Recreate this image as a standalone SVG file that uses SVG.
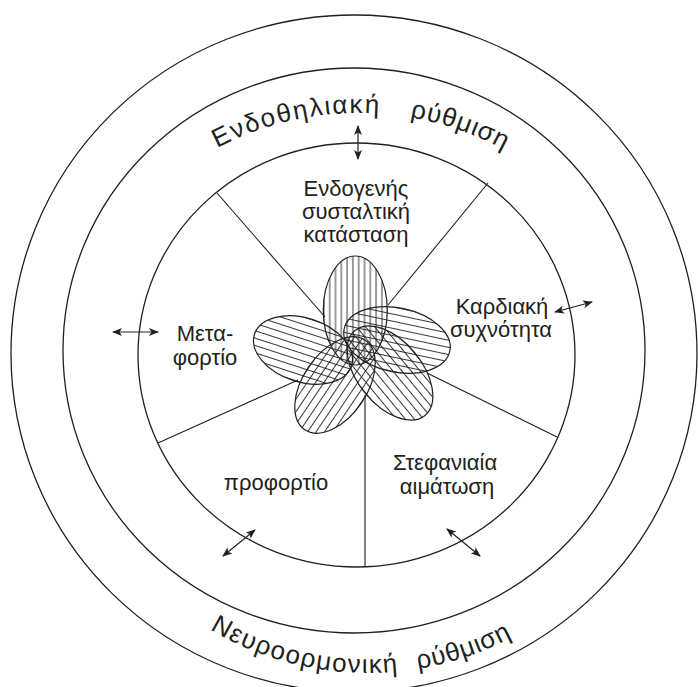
<svg xmlns="http://www.w3.org/2000/svg" width="698" height="687" viewBox="0 0 698 687">
<style>
.ring{fill:none;stroke:#231f20;stroke-width:1.3}
.spoke{fill:none;stroke:#231f20;stroke-width:1.1}
.petal{stroke:#231f20;stroke-width:1.2}
.lbl{font-family:"Liberation Sans",Arial,sans-serif;font-size:22px;fill:#231f20;text-anchor:middle}
.arc{font-family:"Liberation Sans",Arial,sans-serif;font-size:26px;fill:#231f20}
.arr{fill:none;stroke:#231f20;stroke-width:1.2;marker-start:url(#ah);marker-end:url(#ah)}
</style>
<defs>
<marker id="ah" viewBox="0 0 10 8" refX="9" refY="4" markerWidth="10" markerHeight="8" markerUnits="userSpaceOnUse" orient="auto-start-reverse">
<path d="M0,0 L10,4 L0,8 L2.5,4 Z" fill="#231f20"/>
</marker>
<pattern id="h6" width="5.8" height="10" patternUnits="userSpaceOnUse" x="0.5">
<line x1="2.9" y1="-1" x2="2.9" y2="11" stroke="#231f20" stroke-width="0.9"/>
</pattern>
<pattern id="h7" width="7" height="10" patternUnits="userSpaceOnUse">
<line x1="3.5" y1="-1" x2="3.5" y2="11" stroke="#231f20" stroke-width="0.9"/>
</pattern>
<path id="topArc" d="M217,148 A304,304 0 0 1 560,189"/>
<path id="botArc" d="M210,629.4 A308,308 0 0 0 560,605.8"/>
</defs>

<g id="rings">
<ellipse id="outer-ring" class="ring" cx="354" cy="353.5" rx="343" ry="338.5"/>
<ellipse id="middle-ring" class="ring" cx="354" cy="350.5" rx="291" ry="282.5"/>
<ellipse id="inner-ring" class="ring" cx="356.5" cy="355" rx="218.5" ry="212"/>
</g>

<g id="connectors">
<line class="spoke" x1="217" y1="193" x2="325" y2="317"/>
<line class="spoke" x1="488" y1="183" x2="388" y2="305"/>
<line class="spoke" x1="427" y1="373" x2="557" y2="437"/>
<line class="spoke" x1="158" y1="443" x2="298" y2="380"/>
<line class="spoke" x1="365" y1="395" x2="365" y2="567"/>
<line class="arr" x1="358" y1="126" x2="358" y2="159"/>
<line class="arr" x1="113" y1="332" x2="158" y2="332"/>
<line class="arr" x1="555" y1="312" x2="592" y2="302"/>
<line class="arr" x1="223" y1="556" x2="255" y2="530"/>
<line class="arr" x1="447" y1="529" x2="480" y2="556"/>
</g>

<g id="flower">
<g id="petal-top" transform="translate(355.3,310.5)"><ellipse class="petal" rx="32" ry="54.5" fill="url(#h6)"/></g>
<g id="petal-left" transform="translate(303,350) rotate(-72)"><ellipse class="petal" rx="32" ry="51" fill="url(#h7)"/></g>
<g id="petal-right" transform="translate(397,340) rotate(102)"><ellipse class="petal" rx="32" ry="54" fill="url(#h7)"/></g>
<g id="petal-lower-left" transform="translate(335,385) rotate(34)"><ellipse class="petal" rx="32" ry="54" fill="url(#h7)"/></g>
<g id="petal-lower-right" transform="translate(390,373) rotate(-39.5)"><ellipse class="petal" rx="32" ry="55" fill="url(#h7)"/></g>
</g>

<g id="node-endothelial">
<text class="arc" letter-spacing="1.8"><textPath href="#topArc" startOffset="0">Ενδοθηλιακή</textPath></text>
<text class="arc" letter-spacing="0.8"><textPath href="#topArc" startOffset="199">ρύθμιση</textPath></text>
</g>
<g id="node-neurohormonal">
<text class="arc" letter-spacing="1.4"><textPath href="#botArc" startOffset="0">Νευροορμονική</textPath></text>
<text class="arc" letter-spacing="0.8"><textPath href="#botArc" startOffset="216">ρύθμιση</textPath></text>
</g>
<g id="node-contractility">
<text class="lbl" x="356" y="196">Ενδογενής</text>
<text class="lbl" x="356" y="219">συσταλτική</text>
<text class="lbl" x="356" y="241.5">κατάσταση</text>
</g>
<g id="node-heartrate">
<text class="lbl" x="502" y="314">Καρδιακή</text>
<text class="lbl" x="501" y="337">συχνότητα</text>
</g>
<g id="node-afterload">
<text class="lbl" x="205" y="341">Μετα-</text>
<text class="lbl" x="205" y="365">φορτίο</text>
</g>
<g id="node-preload">
<text class="lbl" x="276" y="490">προφορτίο</text>
</g>
<g id="node-coronary">
<text class="lbl" x="445" y="470">Στεφανιαία</text>
<text class="lbl" x="447" y="494">αιμάτωση</text>
</g>
</svg>
